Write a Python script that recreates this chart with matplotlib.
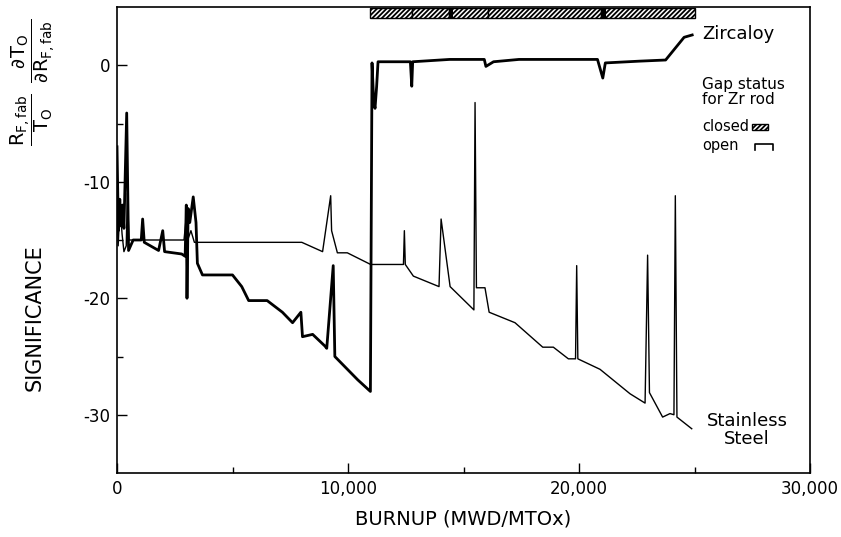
import matplotlib.pyplot as plt

plt.rcParams['font.family'] = 'DejaVu Sans'
plt.rcParams['axes.unicode_minus'] = False
plt.rcParams['mathtext.fontset'] = 'dejavusans'
plt.rcParams['mathtext.default'] = 'regular'
plt.rcParams['hatch.linewidth'] = 1.3

# Zircaloy clad rod (thick curve)
zr_burnup = [0, 60, 120, 180, 240, 300, 420, 500, 700, 1050, 1110, 1180, 1800, 1980, 2060,
             2800, 2950, 3000, 3030, 3080, 3150, 3300, 3420, 3480, 3700, 5000, 5400, 5700,
             6500, 7160, 7600, 7960, 8030, 8470, 9000, 9080, 9360, 9430, 10420, 10970,
             11040, 11110, 11170, 11240, 11300, 12700, 12760, 12800, 14400, 15900, 15970,
             16300, 17400, 20800, 21030, 21140, 22600, 23750, 24550, 24900]
zr_sig = [-7.0, -14.2, -11.5, -13.8, -12.0, -14.0, -4.1, -15.9, -15.0, -15.0, -13.2, -15.2,
          -15.9, -14.2, -16.0, -16.2, -16.4, -12.0, -20.0, -12.3, -13.5, -11.3, -13.5, -17.0,
          -18.0, -18.0, -19.0, -20.2, -20.2, -21.2, -22.1, -21.2, -23.3, -23.1, -24.1, -24.3,
          -17.2, -25.0, -27.0, -28.0, 0.2, -3.0, -3.7, -1.8, 0.3, 0.3, -1.8, 0.3, 0.5, 0.5,
          -0.1, 0.3, 0.5, 0.5, -1.1, 0.2, 0.35, 0.45, 2.4, 2.6]

# Stainless steel clad rod (thin curve)
ss_burnup = [0, 50, 130, 220, 300, 400, 450, 520, 2900, 3000, 3060, 3200, 3350, 8000, 8900,
             9250, 9290, 9540, 9970, 10980, 12400, 12440, 12480, 12830, 13940, 14030, 14420,
             15450, 15500, 15560, 15930, 16110, 17230, 18430, 18890, 19540, 19850, 19900,
             19950, 20910, 22210, 22860, 22970, 23050, 23620, 23940, 24110, 24170, 24240, 24880]
ss_sig = [-12.5, -15.5, -12.0, -14.5, -16.0, -15.5, -11.0, -15.0, -15.0, -13.0, -15.0, -14.2,
          -15.2, -15.2, -16.0, -11.2, -14.2, -16.1, -16.1, -17.1, -17.1, -14.2, -17.1, -18.1,
          -19.0, -13.2, -19.0, -21.0, -3.2, -19.1, -19.1, -21.2, -22.1, -24.2, -24.2, -25.2,
          -25.2, -17.2, -25.2, -26.1, -28.2, -29.0, -16.3, -28.1, -30.2, -29.9, -30.0, -11.2,
          -30.2, -31.2]

# gap closed intervals for the Zr rod
gap_start = [10950, 12770, 14370, 16060, 20950]
gap_end = [12770, 14370, 16060, 20950, 25000]
gap_dark_start = [14370, 20950]
gap_dark_end = [14560, 21180]

xticks = [0, 10000, 20000, 30000]
xticklabels = ['0', '10,000', '20,000', '30,000']
xminor = [5000, 15000, 25000]
yticks = [0, -10, -20, -30]
yticklabels = ['0', '-10', '-20', '-30']
yminor = [-5, -15, -25]

fig = plt.figure(figsize=(8.41, 5.37), dpi=100)
ax = fig.add_axes([117 / 841, 64 / 537, 693 / 841, 466 / 537])

ax.plot(zr_burnup, zr_sig, color='black', lw=2.0, solid_joinstyle='round')
ax.plot(ss_burnup, ss_sig, color='black', lw=1.0)

widths = [e - s for s, e in zip(gap_start, gap_end)]
ax.bar(gap_start, 0.8, width=widths, bottom=4.08, align='edge', color='white',
       edgecolor='black', hatch='///////', linewidth=1.0)
dark_w = [e - s for s, e in zip(gap_dark_start, gap_dark_end)]
ax.bar(gap_dark_start, 0.8, width=dark_w, bottom=4.08, align='edge', color='black')

# labels and gap status key
ax.text(25320, 2.66, 'Zircaloy', fontsize=13, va='center', ha='left')
ax.text(25320, -1.0, 'Gap status\nfor Zr rod', fontsize=11, va='top', ha='left', linespacing=1.05)
ax.text(25320, -5.3, 'closed', fontsize=10.5, va='center', ha='left')
ax.text(25320, -6.9, 'open', fontsize=10.5, va='center', ha='left')
ax.bar(27490, 0.5, width=690, bottom=-5.58, align='edge', color='white',
       edgecolor='black', hatch='///////', linewidth=1.0)
ax.plot([27620, 27620, 28400, 28400], [-7.3, -6.78, -6.78, -7.3], color='black', lw=1.2)
ax.text(27270, -31.3, 'Stainless\nSteel', fontsize=13, va='center', ha='center',
        multialignment='center', linespacing=1.05)

ax.set_xlim(0, 30000)
ax.set_ylim(-35, 5)
ax.set_xticks(xticks)
ax.set_xticklabels(xticklabels)
ax.set_xticks(xminor, minor=True)
ax.set_yticks(yticks)
ax.set_yticklabels(yticklabels)
ax.set_yticks(yminor, minor=True)
ax.tick_params(which='both', direction='in', labelsize=12, width=1.0)
ax.tick_params(which='major', length=7, pad=5)
ax.tick_params(which='minor', length=4)
for sp in ax.spines.values():
    sp.set_linewidth(1.2)

ax.set_xlabel('BURNUP (MWD/MTOx)', fontsize=14, labelpad=8)
fig.text(35 / 841, 1 - 318 / 537, 'SIGNIFICANCE', rotation=90, fontsize=15,
         ha='center', va='center')
fig.text(33 / 841, 1 - 82 / 537,
         r'$\dfrac{R_{F,fab}}{T_O}\;\;\dfrac{\partial T_O}{\partial R_{F,fab}}$',
         rotation=90, fontsize=14, ha='center', va='center')

fig.savefig('out.png', dpi=100)
